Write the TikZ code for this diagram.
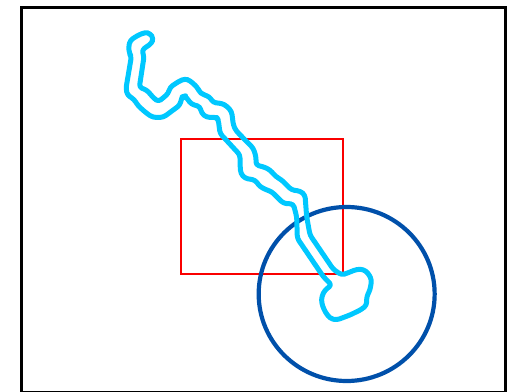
\documentclass[tikz,border=0pt]{standalone}
\definecolor{rootcyan}{RGB}{0,200,255}
\definecolor{discblue}{RGB}{0,80,170}
\definecolor{boxred}{RGB}{250,0,0}
\begin{document}
\begin{tikzpicture}[x=0.33333pt,y=-0.33333pt,
  frame/.style={draw=black,line width=3pt},
  focusbox/.style={draw=boxred,line width=2.2pt},
  disc/.style={draw=discblue,line width=4.2pt},
  root/.style={draw=rootcyan,line width=5pt,line join=round,rounded corners=3pt}]
\useasboundingbox (0,0) rectangle (1554,1176);
\clip (0,0) rectangle (1554,1176);
\fill[white] (0,0) rectangle (1554,1176);
\draw[frame] (64,22) rectangle (1516,1176);
\draw[focusbox] (542,418) rectangle (1028,823);
\draw[disc] (1040,882) ellipse [x radius=264, y radius=261];
\draw[root] (435,97) -- (410,108) -- (390,122) -- (386,140) -- (388,160) -- (394,170)
 -- (378,265) -- (382,285) -- (402,298) -- (415,318) -- (440,340) -- (458,352)
 -- (490,352) -- (540,315) -- (543,300) -- (548,290) -- (555,288) -- (565,300)
 -- (573,312) -- (600,320) -- (605,340) -- (620,352) -- (650,352) -- (655,360)
 -- (660,400) -- (720,465) -- (720,490) -- (722,520) -- (735,535) -- (765,540)
 -- (780,560) -- (800,570) -- (815,575) -- (850,610) -- (880,612) -- (890,650)
 -- (892,715) -- (970,830) -- (995,855) -- (975,870) -- (965,890) -- (965,910)
 -- (975,935) -- (990,955) -- (1010,960) -- (1050,945) -- (1085,928) -- (1100,915)
 -- (1100,890) -- (1110,870) -- (1115,840) -- (1105,820) -- (1090,808) -- (1070,808)
 -- (1040,820) -- (1025,825) -- (1000,808) -- (930,705) -- (920,650) -- (915,585)
 -- (900,573) -- (875,570) -- (845,540) -- (828,530) -- (810,510) -- (795,502)
 -- (768,495) -- (768,470) -- (760,445) -- (708,392) -- (700,375) -- (695,335)
 -- (680,318) -- (665,310) -- (640,308) -- (628,290) -- (608,283) -- (598,275)
 -- (592,262) -- (570,242) -- (555,236) -- (535,245) -- (510,262) -- (505,280)
 -- (488,295) -- (475,305) -- (462,295) -- (440,270) -- (418,262) -- (432,170)
 -- (426,150) -- (440,140) -- (455,130) -- (460,115) -- (450,100) -- cycle;
\end{tikzpicture}
\end{document}
